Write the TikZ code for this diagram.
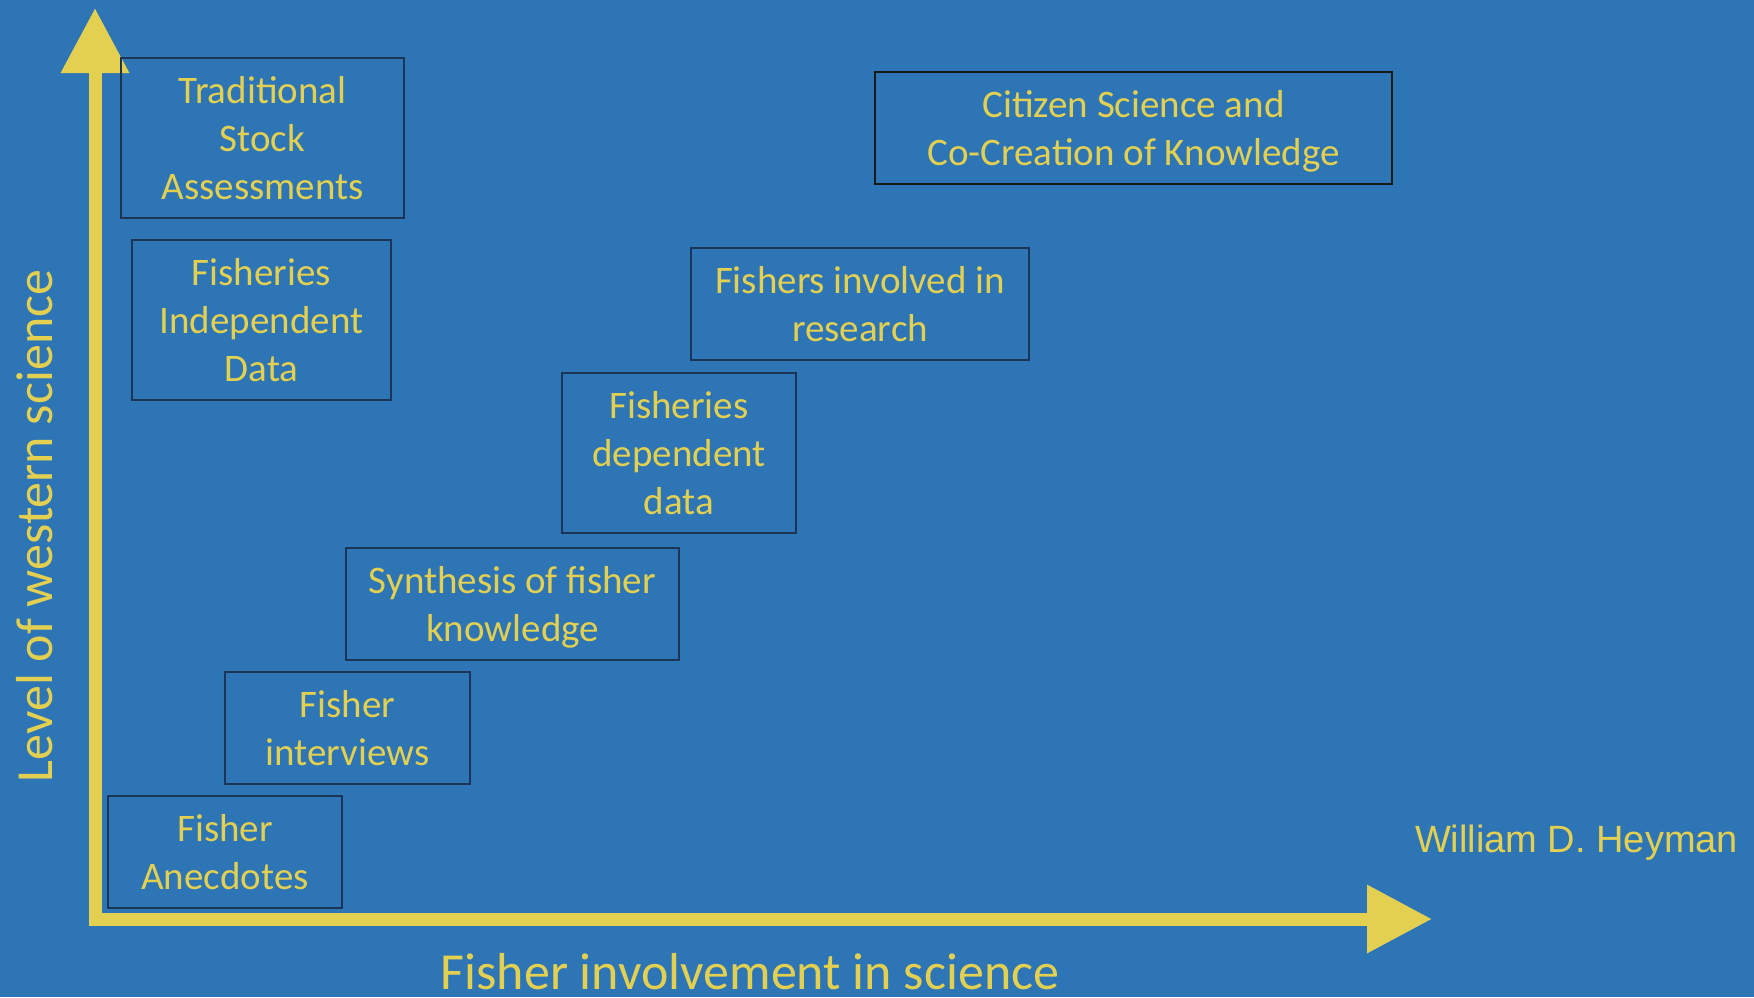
\documentclass[tikz,border=0pt]{standalone}
\usepackage{fontspec}
\setmainfont{Carlito}
\newfontfamily\arialfont{Liberation Sans}
\usetikzlibrary{arrows.meta}
\definecolor{slideblue}{RGB}{46,117,182}
\definecolor{slideyellow}{RGB}{227,208,80}
\definecolor{boxline}{RGB}{28,52,86}

\begin{document}
\begin{tikzpicture}[x=0.5pt,y=-0.5pt,
    box/.style={draw=boxline,line width=0.75pt,text=slideyellow,align=center,
      inner sep=0pt,font=\fontsize{19.5}{23.8}\selectfont},
    axis/.style={draw=slideyellow,line width=6.5pt,line cap=rect,
      -{Triangle[length=32.5pt,width=32.5pt]}}]
    \useasboundingbox[fill=slideblue] (0,0) rectangle (1754,997);

    \coordinate (origin) at (95,919);
    \coordinate (ytip) at (95,8);
    \coordinate (xtip) at (1432,919);
    \draw[axis] (origin) -- (ytip);
    \draw[axis] (origin) -- (xtip);

    \draw node at (262.5,138)[name=trad,box,minimum width=141.5pt,minimum height=80pt]{Traditional\\Stock\\Assessments};
    \draw node at (261.5,320)[name=indep,box,minimum width=129.5pt,minimum height=80pt]{Fisheries\\Independent\\Data};
    \draw node at (225,852)[name=anec,box,minimum width=117pt,minimum height=56pt]{Fisher\\Anecdotes};
    \draw node at (347.5,728)[name=interv,box,minimum width=122.5pt,minimum height=56pt]{Fisher\\interviews};
    \draw node at (512.5,604)[name=synth,box,minimum width=166.5pt,minimum height=56pt,
      text depth=0pt]{Synthesis of fisher\\knowledge};
    \draw node at (679,453)[name=dep,box,minimum width=117pt,minimum height=80pt]{Fisheries\\dependent\\data};
    \draw node at (860,304)[name=involved,box,minimum width=169pt,minimum height=56pt]{Fishers involved in\\research};
    \draw node at (1133.5,128)[name=citizen,box,draw=black!90,minimum width=258.5pt,minimum height=56pt,
      text depth=0pt]{Citizen Science and\\Co-Creation of Knowledge};

    \begin{scope}[slideyellow]
    \draw node at (52,526)[name=ylabel,rotate=90,anchor=base,font=\fontsize{26}{31}\selectfont]{Level of western science};
    \draw node at (750,989)[name=xlabel,anchor=base,font=\fontsize{26}{31}\selectfont]{Fisher involvement in science};
    \draw node at (1576.5,852)[name=author,anchor=base,font=\arialfont\fontsize{19}{23}\selectfont]{William D. Heyman};
    \end{scope}
  \end{tikzpicture}
\end{document}
